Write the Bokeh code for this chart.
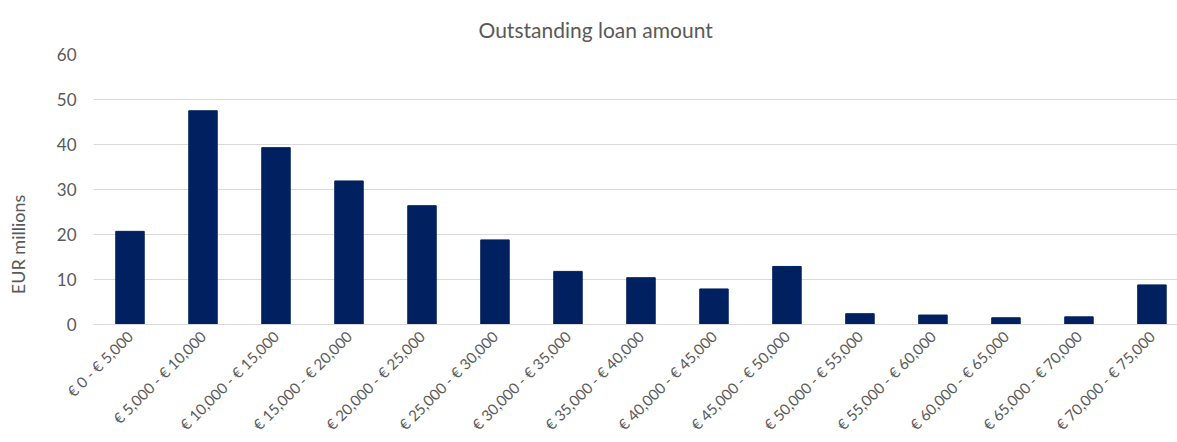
import math
from bokeh.plotting import figure
from bokeh.models import Range1d, FixedTicker, Title, Label, ColumnDataSource
from bokeh.embed import file_html
from bokeh.resources import INLINE

categories = ["€ 0 - € 5,000", "€ 5,000 - € 10,000", "€ 10,000 - € 15,000",
              "€ 15,000 - € 20,000", "€ 20,000 - € 25,000", "€ 25,000 - € 30,000",
              "€ 30,000 - € 35,000", "€ 35,000 - € 40,000", "€ 40,000 - € 45,000",
              "€ 45,000 - € 50,000", "€ 50,000 - € 55,000", "€ 55,000 - € 60,000",
              "€ 60,000 - € 65,000", "€ 65,000 - € 70,000", "€ 70,000 - € 75,000"]
values = [20.7, 47.5, 39.3, 31.9, 26.4, 18.8, 11.8, 10.4, 7.9, 12.9, 2.4, 2.1, 1.5, 1.7, 8.8]
y_ticks = [0, 10, 20, 30, 40, 50, 60]

FONT = "Lato"
GREY = "#595959"

idx = list(range(len(categories)))
src = ColumnDataSource(dict(x=idx, top=values, label=categories))

p = figure(width=1177, height=442, output_backend="svg", toolbar_location=None,
           x_range=Range1d(-0.5, 14.35), y_range=Range1d(0, 60),
           min_border_left=93, min_border_right=0, min_border_top=54, min_border_bottom=100)
p.outline_line_color = None

t = Title(text="Outstanding loan amount", align="left", offset=385,
          text_font=FONT, text_font_size="21px", text_font_style="normal",
          text_color=GREY, standoff=26)
p.add_layout(t, "above")

ylab = Label(x=-14, y=17.8, x_units="screen", y_units="data", text="EUR millions",
             angle=math.pi / 2, text_align="center", text_baseline="middle",
             text_font=FONT, text_font_size="18px", text_color=GREY)
p.add_layout(ylab, "left")

p.vbar(x="x", top="top", width=0.39, source=src, fill_color="#002060", line_color="#002060")

p.xaxis.ticker = FixedTicker(ticks=idx)
p.xaxis.major_label_overrides = {i: c for i, c in zip(idx, categories)}
p.xaxis.major_label_orientation = math.pi / 4
p.xaxis.major_label_text_font = FONT
p.xaxis.major_label_text_font_size = "15px"
p.xaxis.major_label_text_color = GREY
p.xaxis.axis_line_color = "#d9d9d9"
p.xaxis.major_tick_line_color = None
p.xaxis.minor_tick_line_color = None
p.xaxis.major_label_standoff = 3
p.xgrid.grid_line_color = None

p.yaxis.ticker = FixedTicker(ticks=y_ticks)
p.yaxis.major_label_text_font = FONT
p.yaxis.major_label_text_font_size = "17px"
p.yaxis.major_label_text_color = GREY
p.yaxis.axis_line_color = None
p.yaxis.major_tick_line_color = None
p.yaxis.minor_tick_line_color = None
p.yaxis.major_label_standoff = 11
p.ygrid.grid_line_color = "#d9d9d9"
p.ygrid.grid_line_width = 1

open("out.html", "w").write(file_html(p, INLINE))
